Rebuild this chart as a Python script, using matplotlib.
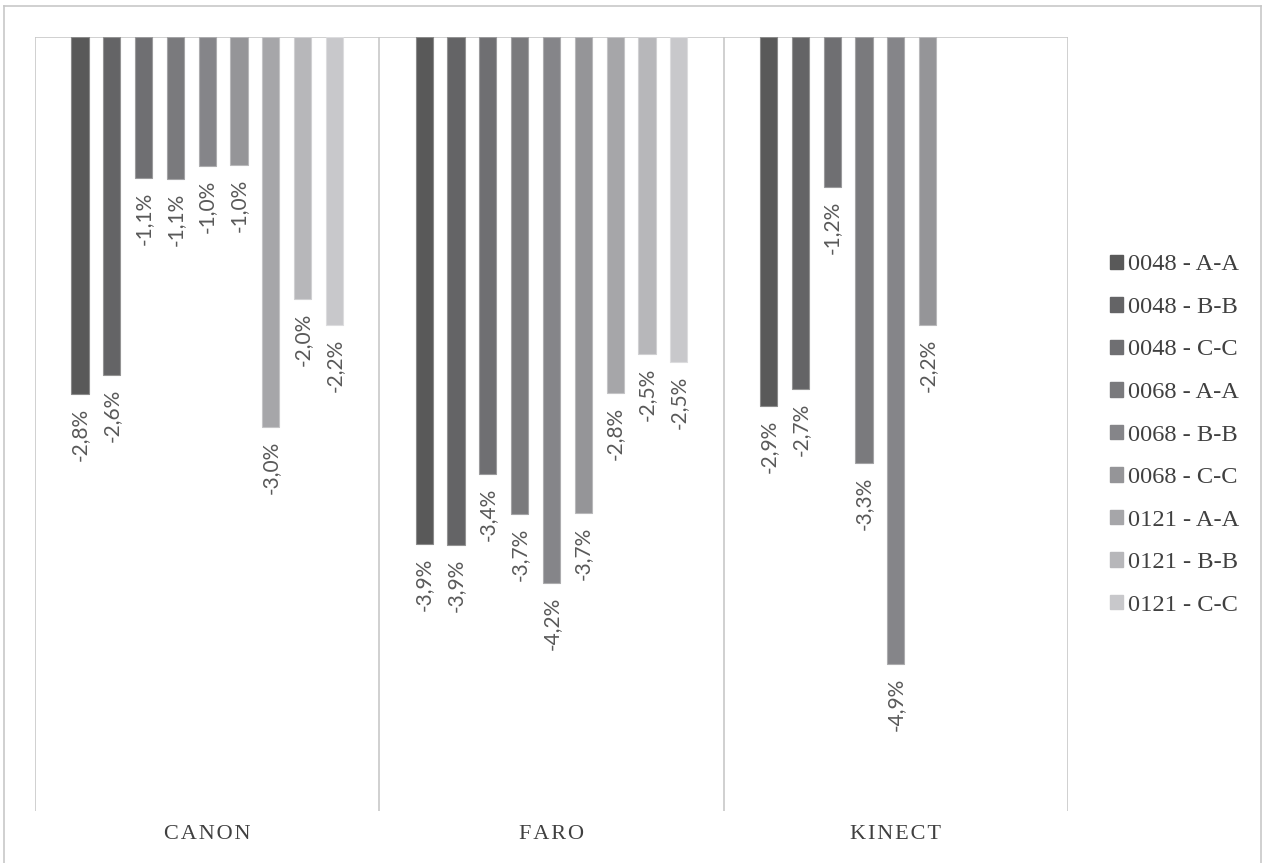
import numpy as np
import matplotlib
matplotlib.use("Agg")
import matplotlib.pyplot as plt
from matplotlib.patches import Rectangle
from matplotlib.lines import Line2D

# ------- data (percent change) -------
categories = ["CANON", "FARO", "KINECT"]
series = ["0048 - A-A", "0048 - B-B", "0048 - C-C",
          "0068 - A-A", "0068 - B-B", "0068 - C-C",
          "0121 - A-A", "0121 - B-B", "0121 - C-C"]
canon = [-2.77, -2.62, -1.09, -1.10, -1.00, -0.99, -3.02, -2.03, -2.23]
faro = [-3.93, -3.94, -3.39, -3.70, -4.23, -3.69, -2.76, -2.46, -2.52]
kinect = [-2.86, -2.73, -1.16, -3.30, -4.86, -2.23, np.nan, np.nan, np.nan]

colors = ["#595959", "#646466", "#6f6f72", "#7a7a7d", "#858589",
          "#959598", "#a6a6a9", "#b7b7ba", "#c8c8cb"]
edge = ["#8a8a8a", "#939393", "#9a9a9c", "#a3a3a5", "#acacae",
        "#b8b8ba", "#c4c4c6", "#d0d0d2", "#dcdcde"]

table = np.array([canon, faro, kinect])  # rows = categories

fig = plt.figure(figsize=(12.62, 8.63), dpi=100)
ax = fig.add_axes([35 / 1262, 1 - 811 / 863, (1068 - 35) / 1262, (811 - 37) / 863])

step = 0.0924
width = 0.05
xs = np.arange(len(categories))
for j, name in enumerate(series):
    pos = xs + (j - 4) * step
    vals = table[:, j]
    ax.bar(pos, vals, width=width, color=colors[j], edgecolor=edge[j],
           linewidth=0.8, label=name, zorder=3)
    for x, v in zip(pos, vals):
        if np.isnan(v):
            continue
        lab = f"{v:.1f}%".replace(".", ",")
        ax.annotate(lab, (x, v), xytext=(0, -10), textcoords="offset points",
                    rotation=90, ha="center", va="top", fontsize=15,
                    family="Lato", color="#595959")

ax.set_xlim(-0.5, 2.5)
ax.set_ylim(-6, 0)
for s in ax.spines.values():
    s.set_visible(False)
ax.axhline(0, color="#c8c8c8", lw=1.2, zorder=2)
for b in [-0.5, 0.5, 1.5, 2.5]:
    ax.axvline(b, color="#c8c8c8", lw=1.2, zorder=2)
ax.set_yticks([])
ax.set_xticks(xs)
# letter-spaced caps, as in the original
ax.set_xticklabels(["\u200a".join(c) for c in categories],
                   family="Liberation Serif", fontsize=16, color="#404040")
ax.tick_params(axis="x", length=0, pad=10)

handles = [Rectangle((0, 0), 1, 1, color=c) for c in colors]
fig.legend(handles, series, loc="center left",
           bbox_to_anchor=(1088 / 1262, 1 - 435 / 863), frameon=False,
           prop={"family": "Liberation Serif", "size": 17.6},
           labelcolor="#404040", handlelength=0.53, handleheight=0.53,
           handletextpad=0.22, labelspacing=0.88)

# outer border
for xy in [((4, 4), (6, 863)), ((4, 1261), (6, 6)), ((1261, 1261), (6, 863))]:
    fig.add_artist(Line2D([xy[0][0] / 1262, xy[0][1] / 1262],
                          [1 - xy[1][0] / 863, 1 - xy[1][1] / 863],
                          color="#c8c8c8", lw=1.2))

fig.savefig("out.png", dpi=100)
plt.close(fig)
